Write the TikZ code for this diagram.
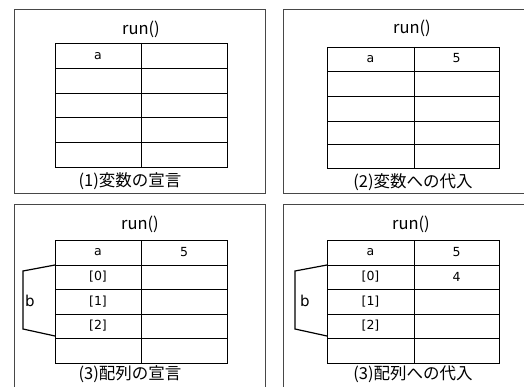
\documentclass[tikz,border=0pt]{standalone}
\usepackage{fontspec}
\setmainfont{Noto Sans CJK JP}
\newfontfamily\latinf{DejaVu Sans}
\begin{document}
\begin{tikzpicture}[x=1pt,y=-1pt,
  panel/.style={draw=black!72,line width=1pt},
  tbl/.style={draw=black,line width=0.9pt},
  brk/.style={draw=black,line width=1.2pt,line join=miter},
  title/.style={font=\fontsize{16.5}{16}\selectfont,inner sep=0pt},
  captext/.style={font=\fontsize{16.5}{17}\selectfont,inner sep=0pt},
  cell/.style={font=\latinf\fontsize{12.5}{13}\selectfont,inner sep=0pt},
  lbl/.style={font=\latinf\fontsize{15}{15}\selectfont,inner sep=0pt}]
\useasboundingbox (0,0) rectangle (524,387);
\fill[white] (0,0) rectangle (524,387);
% panels
\draw[panel] (14,9.5) rectangle (265,194);
\draw[panel] (283,9.5) rectangle (540,194);
\draw[panel] (14,205) rectangle (265,395);
\draw[panel] (283,205) rectangle (540,395);
% table 1
\draw[tbl] (55,43) rectangle (227,167);
\draw[tbl] (141,43) -- (141,167);
\foreach \y in {68,93,117,142} \draw[tbl] (55,\y) -- (227,\y);
% table 2
\draw[tbl] (327,47) rectangle (499,168);
\draw[tbl] (414,47) -- (414,168);
\foreach \y in {71,96,121,144} \draw[tbl] (327,\y) -- (499,\y);
% table 3
\draw[tbl] (55,240) rectangle (227,363);
\draw[tbl] (141,240) -- (141,363);
\foreach \y in {265,289,314,338} \draw[tbl] (55,\y) -- (227,\y);
% table 4
\draw[tbl] (327,240) rectangle (499,363);
\draw[tbl] (414,240) -- (414,363);
\foreach \y in {265,289,314,338} \draw[tbl] (327,\y) -- (499,\y);
% titles
\node[title] (t1) at (141,29) {run()};
\node[title] (t2) at (412,28) {run()};
\node[title] (t3) at (140,224) {run()};
\node[title] (t4) at (411,224) {run()};
% captions
\node[captext] (c1) at (130,181) {(1)変数の宣言};
\node[captext] (c2) at (413,182) {(2)変数への代入};
\node[captext] (c3) at (130,374) {(3)配列の宣言};
\node[captext] (c4) at (413,374) {(3)配列への代入};
% cell texts
\node[cell] (a1) at (98,56) {a};
\node[cell] (a2) at (370.5,59) {a};
\node[cell] (v2) at (456.5,58.5) {5};
\node[cell] (a3) at (98,252.5) {a};
\node[cell] (v3) at (184,252) {5};
\node[cell] (i30) at (98,277) {[0]};
\node[cell] (i31) at (98,301.5) {[1]};
\node[cell] (i32) at (98,326) {[2]};
\node[cell] (a4) at (370.5,252.5) {a};
\node[cell] (v4) at (456.5,252) {5};
\node[cell] (i40) at (370.5,277) {[0]};
\node[cell] (v40) at (456.5,277) {4};
\node[cell] (i41) at (370.5,301.5) {[1]};
\node[cell] (i42) at (370.5,326) {[2]};
% brackets
\draw[brk] (55,265) -- (23,271) -- (23,329) -- (55,336);
\node[lbl] (b3) at (30,301) {b};
\draw[brk] (327,265) -- (295,271) -- (295,329) -- (327,336);
\node[lbl] (b4) at (305,301) {b};
\end{tikzpicture}
\end{document}
